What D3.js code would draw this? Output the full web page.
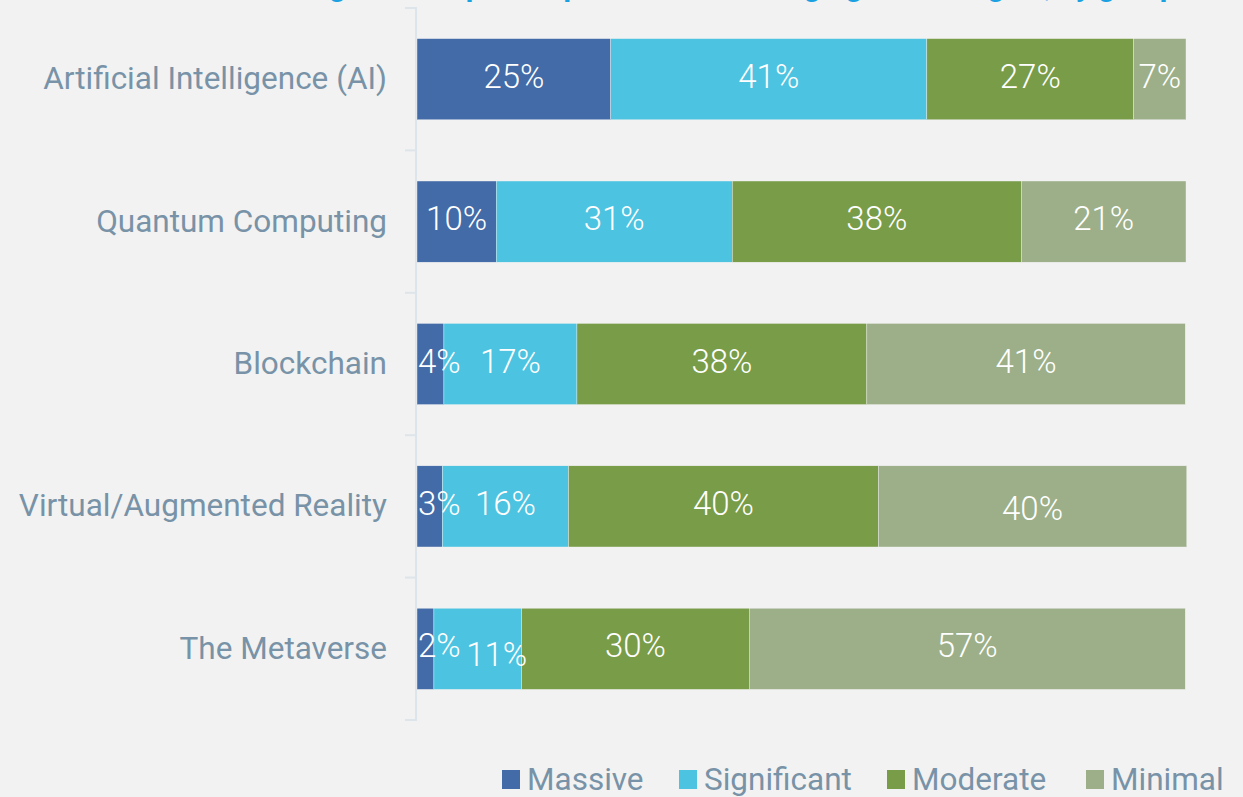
<!DOCTYPE html>
<html>
<head>
<meta charset="utf-8">
<script src="https://cdn.jsdelivr.net/npm/d3@7"></script>
<style>
  html, body { margin: 0; padding: 0; background: #f2f2f2; }
  svg { display: block; font-family: Roboto, "Open Sans", sans-serif; }
</style>
</head>
<body>
<svg id="chart" width="1243" height="797"></svg>
<script>
// categories, top to bottom
var categories = [
  "Artificial Intelligence (AI)",
  "Quantum Computing",
  "Blockchain",
  "Virtual/Augmented Reality",
  "The Metaverse"
];

// series (share of respondents, %)
var seriesNames = ["Massive", "Significant", "Moderate", "Minimal"];
var massive     = [25.2, 10.3, 3.5, 3.3, 2.2];
var significant = [41.1, 30.7, 17.3, 16.4, 11.4];
var moderate    = [26.9, 37.6, 37.7, 40.3, 29.6];
var minimal     = [6.8, 21.4, 41.4, 40.1, 56.7];

var colors = ["#426ba8", "#4cc3e0", "#789c47", "#9caf88"];

// hand-moved data labels, as in the original
var labelNudge = {
  "The Metaverse|Significant": [19, 9],
  "Virtual/Augmented Reality|Minimal": [0, 5]
};

var svg = d3.select("#chart");

// title, mostly cropped off the top of the picture
svg.append("text")
  .attr("x", 735)
  .attr("y", -4.5)
  .attr("text-anchor", "middle")
  .attr("fill", "#1ba1e2")
  .attr("font-weight", "bold")
  .attr("font-size", 30)
  .text("Degree of impact expected from emerging technologies, by group");

var rows = categories.map(function (c, i) {
  return { cat: c, vals: [massive[i], significant[i], moderate[i], minimal[i]] };
});

var y = d3.scaleBand()
  .domain(categories)
  .range([8, 720])
  .paddingInner(0.43)
  .paddingOuter(0.215);

var x = d3.scaleLinear().domain([0, 100]).range([417, 1186]);

// axis line + boundary ticks
var axisColor = "#dde4ea";
svg.append("line")
  .attr("x1", 416).attr("x2", 416)
  .attr("y1", y.range()[0]).attr("y2", y.range()[1])
  .attr("stroke", axisColor).attr("stroke-width", 2);

d3.range(categories.length + 1).forEach(function (k) {
  var yy = y.range()[0] + k * y.step();
  svg.append("line")
    .attr("x1", 405).attr("x2", 417)
    .attr("y1", yy).attr("y2", yy)
    .attr("stroke", axisColor).attr("stroke-width", 2);
});

// category labels
var yAxis = svg.append("g")
  .attr("transform", "translate(416,0)")
  .call(d3.axisLeft(y).tickSize(0).tickPadding(29));
yAxis.select(".domain").remove();
yAxis.selectAll("text")
  .attr("fill", "#7892a7")
  .attr("font-size", 31.5)
  .attr("font-family", "Roboto, sans-serif");

// stacked segments
var segs = [];
rows.forEach(function (r) {
  var start = 0;
  r.vals.forEach(function (v, j) {
    segs.push({ cat: r.cat, s: j, v: v, a: start, b: start + v });
    start += v;
  });
});

svg.append("g").selectAll("rect")
  .data(segs)
  .enter()
  .append("rect")
  .attr("x", function (d) { return x(d.a); })
  .attr("y", function (d) { return y(d.cat); })
  .attr("width", function (d) { return x(d.b) - x(d.a); })
  .attr("height", y.bandwidth())
  .attr("fill", function (d) { return colors[d.s]; })
  .attr("stroke", "#f2f2f2")
  .attr("stroke-width", 0.4);

// data labels, drawn on top of all bars
var fmt = d3.format(".0f");
svg.append("g").selectAll("text")
  .data(segs)
  .enter()
  .append("text")
  .attr("fill", "#ffffff")
  .attr("font-size", 33)
  .attr("font-weight", 300)
  .attr("text-anchor", "middle")
  .attr("dominant-baseline", "central")
  .text(function (d) { return fmt(d.v) + "%"; })
  .each(function (d) {
    var w = this.getComputedTextLength();
    var cx = Math.max((x(d.a) + x(d.b)) / 2, x(0) + w / 2 + 1);
    var cy = y(d.cat) + y.bandwidth() / 2 - 3;
    var n = labelNudge[d.cat + "|" + seriesNames[d.s]];
    if (n) { cx += n[0]; cy += n[1]; }
    d3.select(this).attr("x", cx).attr("y", cy);
  });

// legend
var legX = [502, 679, 887, 1086];
var leg = svg.append("g");
seriesNames.forEach(function (s, i) {
  leg.append("rect")
    .attr("x", legX[i]).attr("y", 770)
    .attr("width", 18).attr("height", 19)
    .attr("fill", colors[i]);
  leg.append("text")
    .attr("x", legX[i] + 25).attr("y", 790)
    .attr("fill", "#7892a7")
    .attr("font-size", 31.5)
    .text(s);
});
</script>
</body>
</html>
